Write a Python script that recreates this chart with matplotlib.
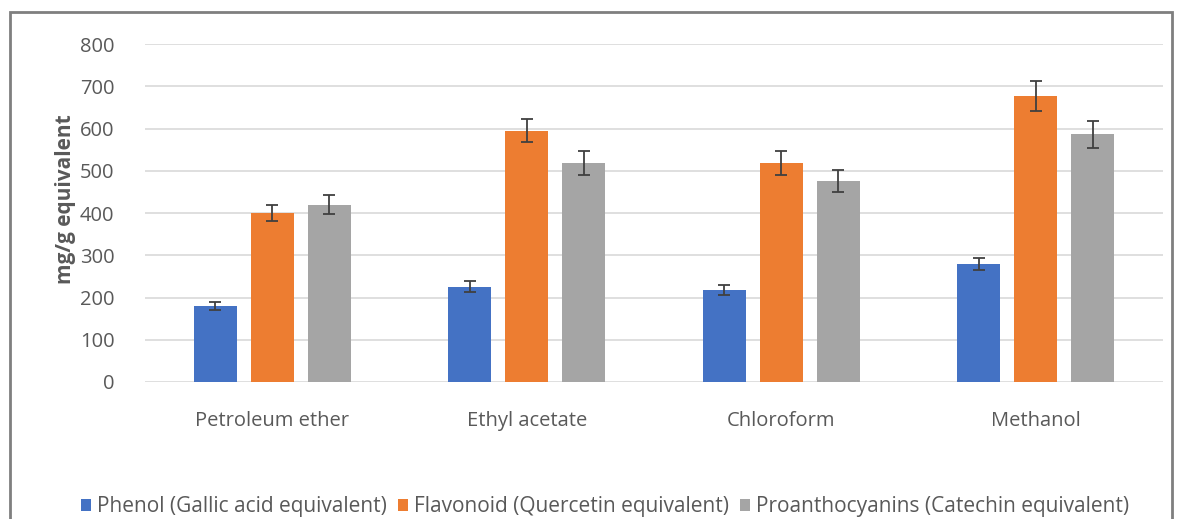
import numpy as np
import matplotlib.pyplot as plt
from matplotlib.patches import Rectangle

solvents = ["Petroleum ether", "Ethyl acetate", "Chloroform", "Methanol"]
series = ["Phenol (Gallic acid equivalent)", "Flavonoid (Quercetin equivalent)",
          "Proanthocyanins (Catechin equivalent)"]
phenol = [180, 225, 218, 279]
flavonoid = [400, 595, 518, 677]
proantho = [420, 518, 476, 587]
phenol_err = [9, 13, 11, 15]
flavonoid_err = [20, 27, 28, 35]
proantho_err = [22, 28, 25, 32]
yticks = [0, 100, 200, 300, 400, 500, 600, 700, 800]

colors = ["#4472C4", "#ED7D31", "#A5A5A5"]
txt = "#595959"

plt.rcParams['font.family'] = ['Open Sans', 'DejaVu Sans']

fig = plt.figure(figsize=(11.82, 5.19), dpi=100)
ax = fig.add_axes([0.1227, 0.264, 0.8613, 0.651])

x = np.arange(len(solvents))
w = 0.17
off = 0.224
for i, (vals, errs) in enumerate([(phenol, phenol_err), (flavonoid, flavonoid_err),
                                  (proantho, proantho_err)]):
    ax.bar(x + (i - 1) * off, vals, w, color=colors[i], label=series[i], zorder=2,
           yerr=errs, capsize=4, error_kw=dict(ecolor="#404040", elinewidth=1.3, capthick=1.3))

ax.set_xlim(-0.5, 3.5)
ax.set_ylim(0, 800)
ax.set_yticks(yticks)
ax.set_xticks(x)
ax.set_xticklabels(solvents)
ax.grid(axis='y', color="#D9D9D9", linewidth=1.2, zorder=0)
for s in ax.spines.values():
    s.set_visible(False)
ax.tick_params(length=0, colors=txt, labelsize=14.5)
ax.tick_params(axis='y', pad=22)
ax.tick_params(axis='x', pad=21)
ax.set_ylabel("mg/g equivalent", color=txt, fontsize=15, fontweight='bold')
ax.yaxis.set_label_coords(-0.068, 0.54)

ax.legend(loc='center', bbox_to_anchor=(0.452, -0.37), ncol=3, frameon=False,
          handlelength=0.5, handleheight=0.5, handletextpad=0.3, columnspacing=0.5,
          fontsize=15, labelcolor=txt)

fig.patches.append(Rectangle((10 / 1182, -0.01), 1162 / 1182, 1 - 12 / 519 + 0.01,
                             transform=fig.transFigure, fill=False,
                             edgecolor="#7F7F7F", linewidth=2))

fig.savefig("out.png", dpi=100)
